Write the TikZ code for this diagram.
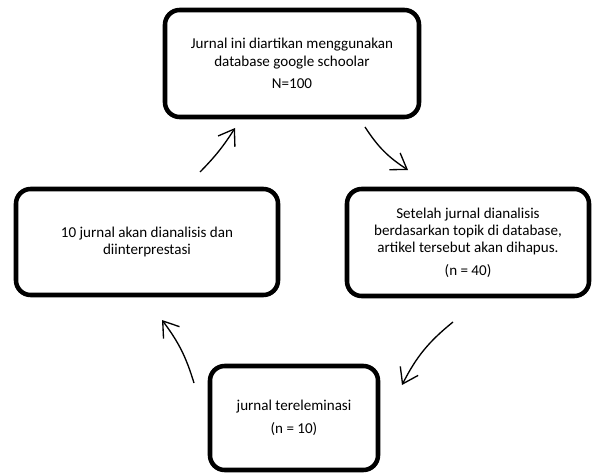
\documentclass[tikz,border=0pt]{standalone}
\usepackage{fontspec}
\setmainfont{Carlito}
\usetikzlibrary{arrows.meta}

\tikzset{
  stepbox/.style={draw=black, line width=3.4pt, rounded corners=11pt, align=center,
    font=\fontsize{11.3}{13}\selectfont, inner sep=0pt},
  flow/.style={line width=1pt, -{Straight Barb[length=11pt, width=15pt, line width=1pt]}}
}

\begin{document}
\begin{tikzpicture}[x=0.75pt, y=-0.75pt]

\useasboundingbox (0,0) rectangle (592,474);

%draw the four boxes
\node [stepbox, minimum width=190.5pt, minimum height=80.25pt] (database) at (292,63.5)
  {Jurnal ini diartikan menggunakan\\database google schoolar\\[4pt]N=100};
\node [stepbox, minimum width=181.5pt, minimum height=80.25pt] (dihapus) at (468,242.5)
  {Setelah jurnal dianalisis\\berdasarkan topik di database,\\artikel tersebut akan dihapus.\\[4pt](n = 40)};
\node [stepbox, minimum width=126pt, minimum height=78pt] (eleminasi) at (294,418)
  {jurnal tereleminasi\\[4pt](n = 10)};
\node [stepbox, minimum width=196.5pt, minimum height=79.5pt] (analisis) at (147,242)
  {10 jurnal akan dianalisis dan\\diinterprestasi};

%ends of the arrows
\coordinate (a1) at (200,172);
\coordinate (b1) at (235,128);
\coordinate (a2) at (365,127);
\coordinate (b2) at (408,170);
\coordinate (a3) at (453,322);
\coordinate (b3) at (402,385);
\coordinate (a4) at (194,383);
\coordinate (b4) at (162,320);

%draw the arrows
\draw [flow] (a1) to [bend right=6] (b1);
\draw [flow] (a2) to [bend right=12] (b2);
\draw [flow] (a3) to [bend right=12] (b3);
\draw [flow] (a4) to [bend right=10] (b4);

\end{tikzpicture}
\end{document}
